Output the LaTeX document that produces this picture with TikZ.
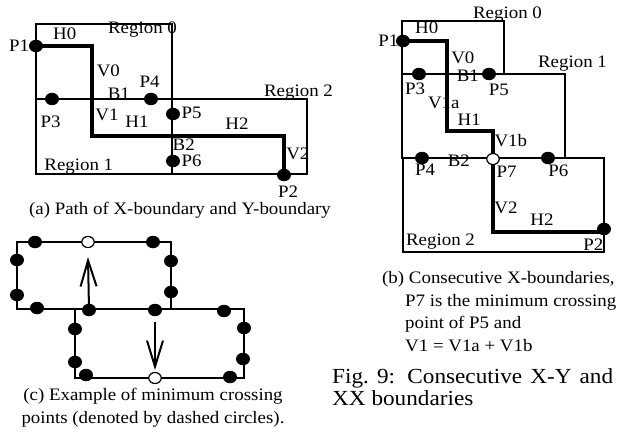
\documentclass[tikz,border=0pt]{standalone}
\usepackage{fontspec}
\setmainfont[FakeStretch=1.08]{Liberation Serif}
\usetikzlibrary{arrows.meta}
\tikzset{
  pdot/.style={ellipse,fill=black,inner sep=0pt,minimum width=14pt,minimum height=12.5pt},
  pring/.style={ellipse,draw=black,fill=white,line width=1.2pt,inner sep=0pt,minimum width=12.5pt,minimum height=11pt},
  rim/.style={line width=2pt},
  route/.style={line width=3.3pt},
  lbl/.style={inner sep=0pt,anchor=base,font=\fontsize{17.5}{20}\selectfont},
  capt/.style={lbl,anchor=base west},
  push/.style={line width=2pt,-{Straight Barb[length=26pt,width=16pt]}}
}
\usetikzlibrary{shapes.geometric}

\begin{document}
\begin{tikzpicture}[x=1pt,y=-1pt]
\useasboundingbox (0,0) rectangle (618,433);
% (a) X-boundary and Y-boundary
\draw[rim] (36,24) rectangle (172,99);
\draw[rim] (36,99) rectangle (172,174);
\draw[rim] (172,99) rectangle (307,174);
\node[pdot] (aP1) at (36,46) {};
\node[pdot] (aP2) at (284,175) {};
\draw[route] (aP1.center) -- (92,46) -- (92,136) -- (284,136) -- (aP2.center);
\foreach \n/\x/\y in {aP3/52/99, aP4/151/99, aP5/173/114, aP6/173/161}
  \node[pdot] (\n) at (\x,\y) {};
\foreach \t/\x/\y in {P1/19/51.7, H0/64.7/40, Region 0/142.5/33.3, V0/108.3/76.7, P4/149.7/87.3,
    B1/118.8/99.3, Region 2/298.5/96.5, P3/50.7/127.3, V1/107/120.7, H1/137/127.3, P5/191.7/118.3,
    H2/237/130, B2/183.7/150, V2/297.8/159.3, P6/191.7/166, Region 1/78.8/170.5, P2/288/197}
  \node[lbl] at (\x,\y) {\t};
\node[lbl] (capA) at (180,214) {(a) Path of X-boundary and Y-boundary};
% (b) consecutive X-boundaries
\draw[rim] (402,21) rectangle (504,74);
\draw[rim] (402,74) rectangle (565,158);
\draw[rim] (403,158) rectangle (604,252);
\node[pdot] (bP1) at (403,41) {};
\node[pdot] (bP2) at (604,229) {};
\draw[route] (bP1.center) -- (447,41) -- (447,131) -- (493,131) -- (493,232) -- (604,232);
\foreach \n/\x/\y in {bP3/419/74, bP5/489/74, bP4/422/158, bP6/548/158}
  \node[pdot] (\n) at (\x,\y) {};
\node[pring] (bP7) at (493,159) {};
\foreach \t/\x/\y in {Region 0/507.5/18.5, H0/426.7/33.3, P1/388.3/47, V0/462.8/64, Region 1/572.5/67.7,
    B1/467.8/81.7, P3/415/94.3, P5/498.8/96, V1a/443.8/108.3, H1/469.2/126, V1b/510.8/146.7,
    B2/458.8/166, P4/425/175, P7/506.7/177.5, P6/558.3/176.5, V2/506/213, H2/542/225.5,
    Region 2/440.5/245, P2/593.3/250}
  \node[lbl] at (\x,\y) {\t};
\node[capt] (capB1) at (382,283) {(b) Consecutive X-boundaries,};
\node[capt] (capB2) at (405,306) {P7 is the minimum crossing};
\node[capt] (capB3) at (405,328) {point of P5 and};
\node[capt] (capB4) at (405,351) {V1 = V1a + V1b};
% (c) minimum crossing points
\draw[rim] (17,242) rectangle (171,309);
\draw[rim] (75,309) rectangle (244,378);
\foreach \x/\y [count=\i] in {35/242, 153/242, 17/260, 17/295, 171/261, 171/292, 37/308, 89/310,
    155/310, 75/329, 75/362, 86/375, 224/311, 244/328, 243/359, 230/377}
  \node[pdot] (c\i) at (\x,\y) {};
\node[pring] (cUp) at (88,242) {};
\node[pring] (cDown) at (155,378) {};
\coordinate (upTip) at (88,257);
\coordinate (downTail) at (155,322);
\coordinate (downTip) at (155,370);
\draw[push] (c8.center) -- (upTip);
\draw[push] (downTail) -- (downTip);
\node[lbl] (capC1) at (153,400.5) {(c) Example of minimum crossing};
\node[lbl] (capC2) at (153,423) {points (denoted by dashed circles).};
% figure caption
\node[capt,font=\fontsize{21.5}{24}\selectfont] (fig1) at (332,383) {\makebox[281pt][s]{Fig.~9: Consecutive X-Y and}};
\node[capt,font=\fontsize{21.5}{24}\selectfont] (fig2) at (332,405) {XX boundaries};
\end{tikzpicture}
\end{document}
